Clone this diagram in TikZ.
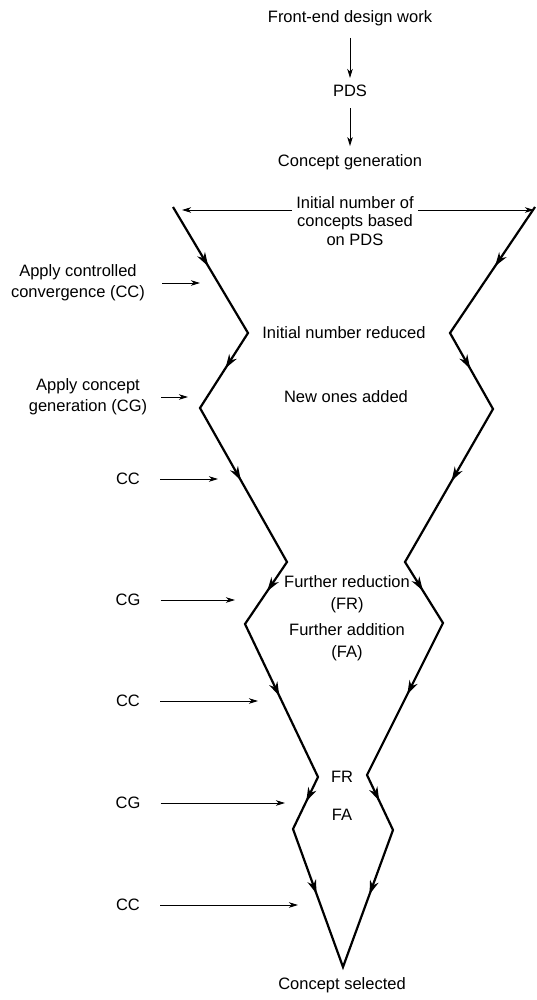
\documentclass[tikz,border=0pt]{standalone}
\usepackage{fontspec}
\setmainfont{Liberation Sans}
\usetikzlibrary{arrows.meta,decorations.markings}

\begin{document}
\begin{tikzpicture}[x=1pt,y=-1pt,
  txt/.style={font=\fontsize{16.5}{18.5}\selectfont, inner sep=1pt, align=center},
  wide/.style={font=\fontsize{16.5}{22}\selectfont},
  feed/.style={line width=0.9pt, -{Stealth[length=9pt,width=5.5pt,inset=2.5pt]}},
  funnel/.style={line width=2.2pt, line join=miter, miter limit=20},
  midarrow/.style={postaction={decorate}, decoration={markings,
      mark=at position 0.47 with {\arrow[line width=1.4pt]{Stealth[length=14pt,width=9pt,inset=4.5pt]}}}}
]
\useasboundingbox (0,0) rectangle (537,1000);

% lead-in chain
\node[txt] (fe)  at (350,18)  {Front-end design work};
\node[txt] (pds) at (350,91)  {PDS};
\node[txt] (cgen) at (350,162) {Concept generation};
\draw[feed, shorten <=11pt, shorten >=6pt] (fe) -- (pds);
\draw[feed, shorten <=10pt, shorten >=7pt] (pds) -- (cgen);

% starting width of the concept field
\node[txt] (init) at (355,221) {Initial number of\\concepts based\\on PDS};
\coordinate (wl) at (182,210);
\coordinate (wr) at (534,210);
\draw[feed, shorten <=3pt] ([yshift=11pt]init.west) -- (wl);
\draw[feed, shorten <=3pt] ([yshift=11pt]init.east) -- (wr);

% funnel outline
\coordinate (L0) at (173,207);
\coordinate (L1) at (248,333);
\coordinate (L2) at (200,408);
\coordinate (L3) at (287,562);
\coordinate (L4) at (245,624);
\coordinate (L5) at (318,777);
\coordinate (L6) at (293,829);
\coordinate (B)  at (343,967);
\coordinate (R0) at (535,207);
\coordinate (R1) at (450,333);
\coordinate (R2) at (493,409);
\coordinate (R3) at (405,562);
\coordinate (R4) at (443,623);
\coordinate (R5) at (367,775);
\coordinate (R6) at (393,830);

\draw[funnel] (L0) -- (L1) -- (L2) -- (L3) -- (L4) -- (L5) -- (L6) -- (B)
  -- (R6) -- (R5) -- (R4) -- (R3) -- (R2) -- (R1) -- (R0);

\foreach \a/\b in {L0/L1,L1/L2,L2/L3,L3/L4,L4/L5,L5/L6,L6/B,
                   R0/R1,R1/R2,R2/R3,R3/R4,R4/R5,R5/R6,R6/B}
  \path[midarrow] (\a) -- (\b);

% stages inside the funnel
\node[txt] (red)  at (344,333) {Initial number reduced};
\node[txt] (add)  at (346,397) {New ones added};
\node[txt,wide] (fr)  at (347,594) {Further reduction\\(FR)};
\node[txt,wide] (fa)  at (347,642) {Further addition\\(FA)};
\node[txt] (fr2)  at (342,777) {FR};
\node[txt] (fa2)  at (342,815) {FA};
\node[txt] (sel)  at (342,985) {Concept selected};

% operations applied from the left
\node[txt,font=\fontsize{16.5}{21}\selectfont] (op1) at (78,283)  {Apply controlled\\convergence (CC)};
\node[txt,font=\fontsize{16.5}{21}\selectfont] (op2) at (88,397)  {Apply concept\\generation (CG)};
\node[txt] (op3) at (128,479) {CC};
\node[txt] (op4) at (128,600) {CG};
\node[txt] (op5) at (128,701) {CC};
\node[txt] (op6) at (128,803) {CG};
\node[txt] (op7) at (128,905) {CC};

\coordinate (t1) at (200,283);
\coordinate (t2) at (188,397);
\coordinate (t3) at (218,479);
\coordinate (t4) at (235,600);
\coordinate (t5) at (258,701);
\coordinate (t6) at (285,803);
\coordinate (t7) at (298,905);

\draw[feed, shorten <=16pt] (op1.east |- t1) -- (t1);
\draw[feed, shorten <=13pt] (op2.east |- t2) -- (t2);
\foreach \i in {3,...,7}
  \draw[feed, shorten <=19pt] (op\i.east |- t\i) -- (t\i);
\end{tikzpicture}
\end{document}
